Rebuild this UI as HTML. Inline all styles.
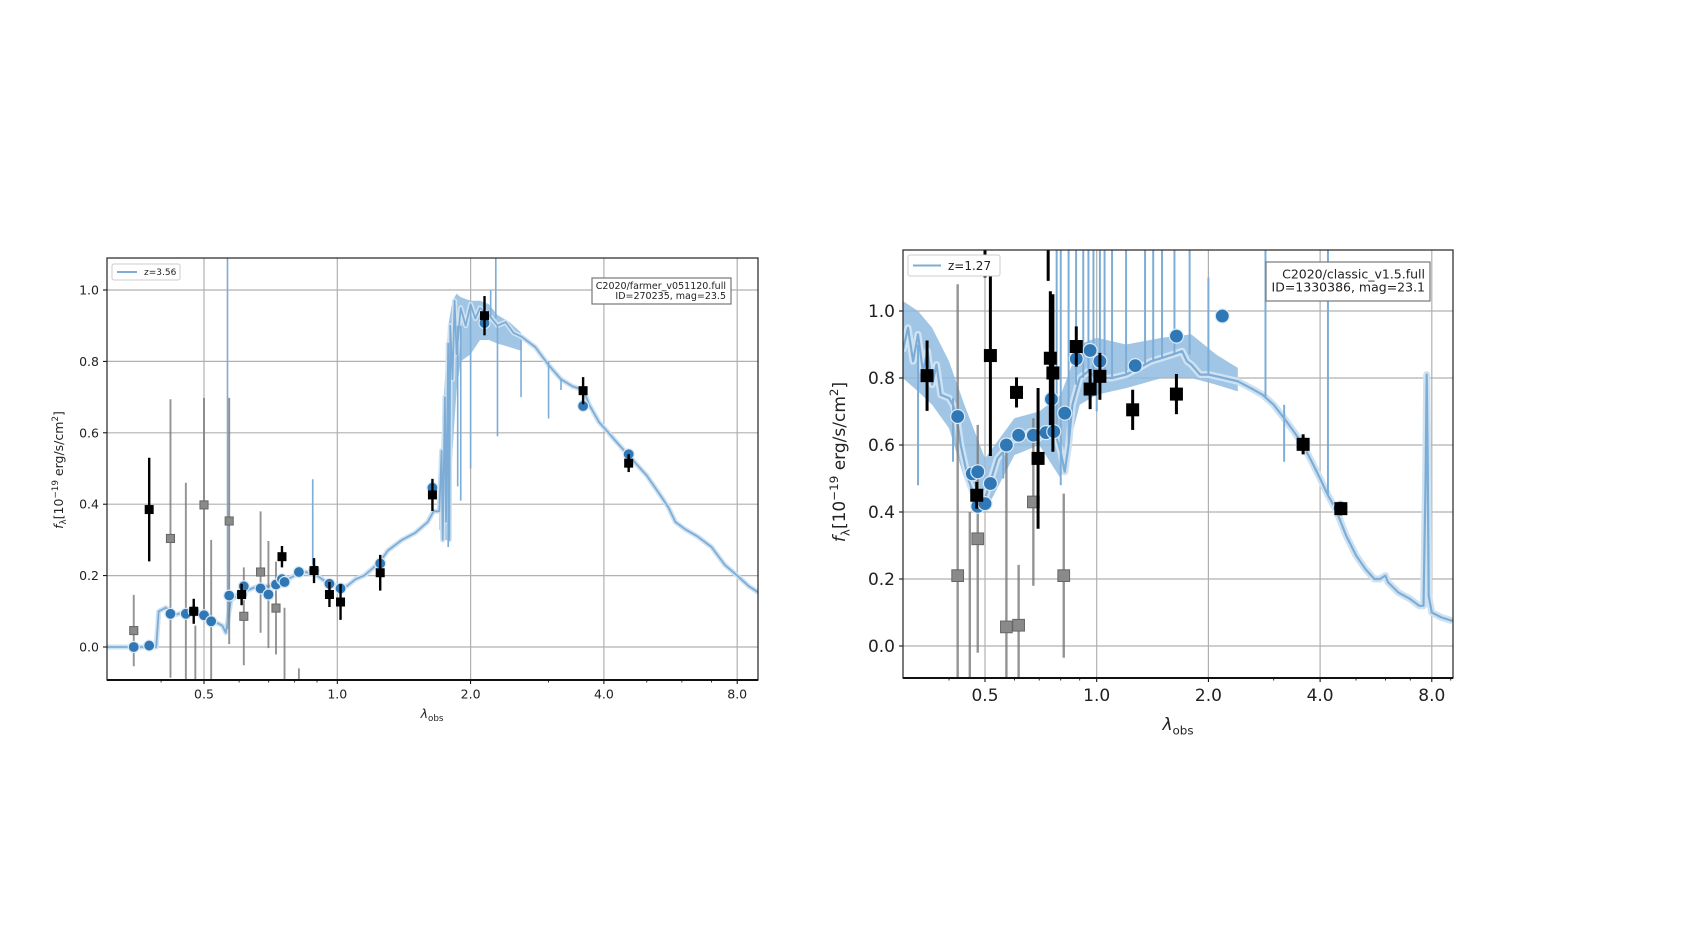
<!DOCTYPE html>
<html><head><meta charset="utf-8">
<style>
html,body{margin:0;padding:0;background:#fff;}
svg{display:block;font-family:"DejaVu Sans","Liberation Sans",sans-serif;}
</style></head>
<body>
<svg id="root" width="1687" height="949" viewBox="0 0 1687 949" xmlns="http://www.w3.org/2000/svg">
<defs>
<clipPath id="clipL"><rect x="107" y="258" width="651" height="422"/></clipPath>
<clipPath id="clipR"><rect x="903" y="250" width="550" height="428"/></clipPath>
</defs>
<g id="left"></g>
<g id="right"></g>
</svg>
<script>
// ---------- LEFT chart data ----------
const leftXTicks = [0.5, 1.0, 2.0, 4.0, 8.0];
const leftXTickLabels = ["0.5", "1.0", "2.0", "4.0", "8.0"];
const leftYTicks = [0.0, 0.2, 0.4, 0.6, 0.8, 1.0];
const leftYTickLabels = ["0.0", "0.2", "0.4", "0.6", "0.8", "1.0"];
const leftSpecLam = [0.30,0.39,0.395,0.41,0.43,0.46,0.5,0.53,0.55,0.56,0.575,0.6,0.63,0.66,0.7,0.75,0.8,0.85,0.9,0.95,1.0,1.05,1.1,1.15,1.2,1.25,1.3,1.4,1.5,1.6,1.65,1.7,1.72,1.73,1.75,1.76,1.78,1.79,1.8,1.82,1.84,1.86,1.9,1.95,2.0,2.05,2.1,2.2,2.3,2.4,2.5,2.6,2.8,3.0,3.2,3.4,3.6,3.7,3.9,4.1,4.3,4.6,5.0,5.4,5.6,5.8,6.1,6.5,7.0,7.5,8.0,8.5,9.0];
const leftSpecFlux = [0,0,0.1,0.11,0.09,0.1,0.09,0.07,0.06,0.04,0.13,0.15,0.16,0.17,0.17,0.18,0.2,0.21,0.2,0.18,0.17,0.17,0.19,0.2,0.22,0.24,0.27,0.3,0.32,0.35,0.38,0.38,0.55,0.3,0.7,0.35,0.85,0.3,0.9,0.75,0.97,0.82,0.95,0.9,0.96,0.92,0.95,0.93,0.9,0.91,0.88,0.87,0.84,0.79,0.75,0.73,0.72,0.68,0.63,0.6,0.57,0.53,0.48,0.42,0.39,0.35,0.33,0.31,0.28,0.23,0.2,0.17,0.15];
const leftNoiseLam = [1.7,1.74,1.78,1.82,1.86,1.9,2.0,2.1,2.2,2.3,2.45,2.6];
const leftNoiseHi = [0.45,0.7,0.9,0.97,0.99,0.98,0.97,0.97,0.96,0.93,0.91,0.88];
const leftNoiseLo = [0.33,0.3,0.3,0.55,0.72,0.8,0.82,0.86,0.86,0.85,0.84,0.83];
const leftLineLam = [0.565,0.88,2.22,2.28,1.78,1.87,1.9,2.0,2.3,2.6,3.0,3.2];
const leftLineTop = [1.2,0.47,1.0,1.2,0.8,0.9,0.9,0.95,0.9,0.86,0.8,0.75];
const leftLineBot = [0.05,0.2,0.92,0.92,0.28,0.45,0.41,0.5,0.59,0.7,0.64,0.72];
const leftModelLam = [0.347,0.376,0.42,0.455,0.474,0.5,0.519,0.57,0.608,0.615,0.671,0.699,0.727,0.75,0.76,0.819,0.886,0.96,1.017,1.25,1.64,2.15,3.59,4.55];
const leftModelFlux = [0,0.004,0.093,0.093,0.10,0.089,0.072,0.144,0.147,0.17,0.164,0.147,0.175,0.19,0.182,0.21,0.214,0.177,0.164,0.234,0.446,0.907,0.675,0.54];
const leftObsLam = [0.376,0.474,0.608,0.75,0.886,0.96,1.017,1.25,1.64,2.15,3.59,4.55];
const leftObsFlux = [0.385,0.10,0.147,0.253,0.214,0.147,0.126,0.208,0.426,0.928,0.718,0.515];
const leftObsErr = [0.145,0.035,0.03,0.03,0.035,0.035,0.05,0.05,0.045,0.055,0.038,0.025];
const leftLowLam = [0.347,0.42,0.455,0.5,0.519,0.478,0.57,0.615,0.671,0.699,0.727,0.76,0.819];
const leftLowFlux = [0.046,0.304,-0.15,0.398,-0.2,-0.2,0.353,0.086,0.21,0.147,0.109,-0.2,-0.3];
const leftLowErr = [0.1,0.39,0.61,0.3,0.5,0.26,0.345,0.137,0.17,0.15,0.13,0.31,0.24];

// ---------- RIGHT chart data ----------
const rightXTicks = [0.5, 1.0, 2.0, 4.0, 8.0];
const rightXTickLabels = ["0.5", "1.0", "2.0", "4.0", "8.0"];
const rightYTicks = [0.0, 0.2, 0.4, 0.6, 0.8, 1.0];
const rightYTickLabels = ["0.0", "0.2", "0.4", "0.6", "0.8", "1.0"];
const rightSpecLam = [0.30,0.31,0.32,0.33,0.34,0.35,0.36,0.37,0.38,0.4,0.41,0.42,0.43,0.44,0.45,0.46,0.48,0.5,0.52,0.54,0.56,0.58,0.62,0.66,0.7,0.74,0.78,0.8,0.82,0.84,0.86,0.9,0.95,1.0,1.1,1.2,1.3,1.4,1.5,1.6,1.7,1.75,1.8,1.9,2.0,2.2,2.4,2.6,2.8,3.0,3.2,3.4,3.6,3.8,4.0,4.2,4.4,4.7,5.0,5.3,5.6,5.8,6.0,6.1,6.5,7.0,7.4,7.6,7.7,7.75,7.8,7.85,8.0,8.5,9.1];
const rightSpecFlux = [0.88,0.95,0.85,0.93,0.82,0.88,0.78,0.84,0.75,0.74,0.72,0.68,0.6,0.55,0.5,0.47,0.43,0.44,0.5,0.56,0.58,0.61,0.62,0.64,0.62,0.65,0.62,0.58,0.52,0.6,0.72,0.8,0.82,0.8,0.8,0.81,0.83,0.85,0.86,0.87,0.88,0.85,0.84,0.81,0.81,0.8,0.79,0.77,0.75,0.72,0.68,0.64,0.6,0.55,0.5,0.45,0.41,0.33,0.27,0.23,0.2,0.2,0.21,0.19,0.16,0.14,0.12,0.12,0.5,0.81,0.55,0.15,0.1,0.085,0.075];
const rightNoiseLam = [0.3,0.33,0.36,0.4,0.44,0.5,0.6,0.7,0.8,0.9,1.0,1.2,1.5,1.8,2.1,2.4];
const rightNoiseHi = [1.03,1.0,0.95,0.85,0.72,0.56,0.68,0.7,0.75,0.9,0.92,0.9,0.92,0.93,0.87,0.83];
const rightNoiseLo = [0.8,0.76,0.72,0.65,0.5,0.4,0.57,0.6,0.5,0.72,0.75,0.77,0.8,0.8,0.78,0.76];
const rightLineLam = [0.78,0.8,0.84,0.88,0.92,0.95,0.98,1.02,1.05,1.1,1.2,1.35,1.42,1.5,1.62,1.78,2.0,2.85,4.2,0.33,0.41,0.56,0.8,1.0,3.2];
const rightLineTop = [1.2,1.2,1.2,1.2,1.2,1.2,1.2,1.2,1.2,1.2,1.2,1.2,1.2,1.2,1.2,1.2,1.1,1.2,1.2,0.9,0.74,0.6,0.62,0.8,0.72];
const rightLineBot = [0.62,0.58,0.6,0.78,0.8,0.82,0.8,0.8,0.8,0.8,0.81,0.84,0.85,0.86,0.87,0.87,0.81,0.74,0.45,0.48,0.55,0.5,0.48,0.7,0.55];
const rightModelLam = [0.422,0.462,0.478,0.478,0.5,0.517,0.571,0.616,0.675,0.73,0.766,0.755,0.82,0.881,0.96,1.02,1.27,1.64,2.18,3.6,4.53];
const rightModelFlux = [0.685,0.514,0.52,0.417,0.425,0.485,0.6,0.629,0.629,0.637,0.64,0.737,0.695,0.857,0.882,0.85,0.837,0.925,0.985,0.602,0.412];
const rightObsLam = [0.349,0.475,0.517,0.608,0.695,0.75,0.762,0.881,0.96,1.02,1.25,1.64,3.6,4.55,0.74,0.5];
const rightObsFlux = [0.807,0.45,0.867,0.757,0.56,0.859,0.815,0.894,0.767,0.805,0.705,0.752,0.602,0.41,1.3,1.35];
const rightObsErr = [0.105,0.04,0.3,0.045,0.21,0.2,0.235,0.06,0.06,0.07,0.06,0.06,0.03,0.02,0.21,0.25];
const rightLowLam = [0.422,0.478,0.455,0.571,0.616,0.675,0.815];
const rightLowFlux = [0.21,0.32,-0.3,0.057,0.062,0.43,0.21];
const rightLowErr = [0.87,0.34,0.7,0.55,0.18,0.25,0.245];

const NS = "http://www.w3.org/2000/svg";
function mk(parent, tag, attrs, text){
  const e = document.createElementNS(NS, tag);
  for (const k in attrs) e.setAttribute(k, attrs[k]);
  if (text !== undefined) e.textContent = text;
  parent.appendChild(e);
  return e;
}

function drawChart(g, cfg, d){
  const X = l => cfg.x05 + cfg.oct * Math.log2(l / 0.5);
  const Y = v => cfg.y0 - v * cfg.unit;
  const L = cfg.left, R = cfg.right, T = cfg.top, B = cfg.bottom;
  const bg = mk(g, 'rect', {x:L, y:T, width:R-L, height:B-T, fill:'#fff'});
  
  
  d.yTicks.forEach((v,i)=>{
    const ln = mk(g,'line',{x1:L,x2:R,y1:Y(v),y2:Y(v),stroke:'#b0b0b0','stroke-width':1.2});
    
    
    mk(g,'line',{x1:L-4,x2:L,y1:Y(v),y2:Y(v),stroke:'#000','stroke-width':1});
    const t = mk(g,'text',{x:L-8,y:Y(v)+cfg.fs*0.36,'text-anchor':'end','font-size':cfg.fs,fill:'#222'}, d.yTickLabels[i]);
    
    
  });
  d.xTicks.forEach((v,i)=>{
    const ln = mk(g,'line',{x1:X(v),x2:X(v),y1:T,y2:B,stroke:'#b0b0b0','stroke-width':1.2});
    
    
    mk(g,'line',{x1:X(v),x2:X(v),y1:B,y2:B+4,stroke:'#000','stroke-width':1});
    const t = mk(g,'text',{x:X(v),y:B+cfg.fs+6,'text-anchor':'middle','font-size':cfg.fs,fill:'#222'}, d.xTickLabels[i]);
    
    
  });
  [0.3,0.4,0.6,0.7,0.8,0.9,3,5,6,7,9].forEach(v=>{
    const xx = X(v); if (xx>L && xx<R) mk(g,'line',{x1:xx,x2:xx,y1:B,y2:B+2.5,stroke:'#000','stroke-width':0.8});
  });
  const cg = mk(g,'g',{'clip-path':'url(#'+cfg.clip+')'});
  // noisy spectrum region
  const np = d.noiseLam.map((l,i)=>X(l).toFixed(1)+','+Y(d.noiseHi[i]).toFixed(1))
    .concat(d.noiseLam.slice().reverse().map((l,j)=>{const i=d.noiseLam.length-1-j;return X(l).toFixed(1)+','+Y(d.noiseLo[i]).toFixed(1);})).join(' ');
  const nz = mk(cg,'polygon',{points:np,fill:'#8fbbe0',opacity:0.85});
  
  
  const pts = d.specLam.map((l,i)=>X(l).toFixed(1)+','+Y(d.specFlux[i]).toFixed(1)).join(' ');
  const band = mk(cg,'polyline',{points:pts,fill:'none',stroke:'#cfe2f2','stroke-width':cfg.band,'stroke-linejoin':'round'});
  
  
  const sp = mk(cg,'polyline',{points:pts,fill:'none',stroke:'#7dadd6','stroke-width':cfg.lw,'stroke-linejoin':'round'});
  
  
  d.lineLam.forEach((l,i)=>{
    const e = mk(cg,'line',{x1:X(l),x2:X(l),y1:Y(d.lineTop[i]),y2:Y(d.lineBot[i]),stroke:'#7dadd6','stroke-width':cfg.lw*0.9});
    
    
  });
  d.lowLam.forEach((l,i)=>{
    const x = X(l), v = d.lowFlux[i], e = d.lowErr[i];
    const eb = mk(cg,'line',{x1:x,x2:x,y1:Y(v+e),y2:Y(v-e),stroke:'#7a7a7a','stroke-width':cfg.ew*0.8,opacity:0.8});
    
    
    const s = cfg.sq*0.9;
    const r = mk(cg,'rect',{x:x-s/2,y:Y(v)-s/2,width:s,height:s,fill:'#8a8a8a',stroke:'#666','stroke-width':1});
    
    
  });
  d.modelLam.forEach((l,i)=>{
    const c = mk(cg,'circle',{cx:X(l),cy:Y(d.modelFlux[i]),r:cfg.cr,fill:'#2f78b5',stroke:'#dbe9f5','stroke-width':1.2});
    
    
  });
  d.obsLam.forEach((l,i)=>{
    const x = X(l), v = d.obsFlux[i], e = d.obsErr[i];
    const eb = mk(cg,'line',{x1:x,x2:x,y1:Y(v+e),y2:Y(v-e),stroke:'#000','stroke-width':cfg.ew});
    
    
    const s = cfg.sq;
    const r = mk(cg,'rect',{x:x-s/2,y:Y(v)-s/2,width:s,height:s,fill:'#000'});
    
    
  });
  const fr = mk(g,'rect',{x:L,y:T,width:R-L,height:B-T,fill:'none',stroke:'#222','stroke-width':1.2});
  
  
  mk(g,'line',{x1:L,x2:R,y1:B,y2:B,stroke:'#111','stroke-width':2});
  const lg = mk(g,'g',{});
  
  
  mk(lg,'rect',{x:cfg.leg[0],y:cfg.leg[1],width:cfg.leg[2],height:cfg.leg[3],fill:'#fff',stroke:'#ccc','stroke-width':1,rx:2});
  const ly = cfg.leg[1]+cfg.leg[3]/2;
  mk(lg,'line',{x1:cfg.leg[0]+5,x2:cfg.leg[0]+5+cfg.legLine,y1:ly,y2:ly,stroke:'#7dadd6','stroke-width':2});
  const lt = mk(lg,'text',{x:cfg.leg[0]+12+cfg.legLine,y:ly+cfg.legFs*0.36,'font-size':cfg.legFs,fill:'#222'}, cfg.legText);
  
  
  const ib = mk(g,'g',{});
  
  
  const b = cfg.info;
  mk(ib,'rect',{x:b[0],y:b[1],width:b[2],height:b[3],fill:'#fff',stroke:'#777','stroke-width':1.2});
  mk(ib,'text',{x:b[0]+b[2]-5,y:b[1]+b[3]*0.42,'text-anchor':'end','font-size':cfg.infoFs,fill:'#222'}, cfg.info1);
  mk(ib,'text',{x:b[0]+b[2]-5,y:b[1]+b[3]*0.42+cfg.infoFs*1.05,'text-anchor':'end','font-size':cfg.infoFs,fill:'#222'}, cfg.info2);
  const yl = mk(g,'text',{x:0,y:0,'font-size':cfg.labFs,fill:'#222','text-anchor':'middle',transform:'translate('+cfg.ylab[0]+','+cfg.ylab[1]+') rotate(-90)'});
  
  
  yl.innerHTML = '<tspan font-style="italic">f</tspan><tspan font-size="'+(cfg.labFs*0.7)+'" dy="'+(cfg.labFs*0.25)+'">λ</tspan><tspan dy="'+(-cfg.labFs*0.25)+'">[10</tspan><tspan font-size="'+(cfg.labFs*0.7)+'" dy="'+(-cfg.labFs*0.4)+'">−19</tspan><tspan dy="'+(cfg.labFs*0.4)+'"> erg/s/cm</tspan><tspan font-size="'+(cfg.labFs*0.7)+'" dy="'+(-cfg.labFs*0.4)+'">2</tspan><tspan dy="'+(cfg.labFs*0.4)+'">]</tspan>';
  const xl = mk(g,'text',{x:cfg.xlab[0],y:cfg.xlab[1],'font-size':cfg.labFs,fill:'#222','text-anchor':'middle'});
  
  
  xl.innerHTML = '<tspan font-style="italic">λ</tspan><tspan font-size="'+(cfg.labFs*0.7)+'" dy="'+(cfg.labFs*0.25)+'">obs</tspan>';
}

drawChart(document.getElementById('left'), {
  x05:204, oct:133.3, y0:647, unit:357, left:107, right:758, top:258, bottom:680, clip:'clipL',
  fs:12.5, lw:1.8, band:5, ew:2.4, sq:9, cr:5.5,
  leg:[112,264,68,16], legLine:20, legFs:9, legText:'z=3.56',
  info:[592,278,139,26], infoFs:9.5, info1:'C2020/farmer_v051120.full', info2:'ID=270235, mag=23.5',
  labFs:12.5, ylab:[63,470], xlab:[432,718]
},{xTicks:leftXTicks,xTickLabels:leftXTickLabels,yTicks:leftYTicks,yTickLabels:leftYTickLabels,
 specLam:leftSpecLam,specFlux:leftSpecFlux,noiseLam:leftNoiseLam,noiseHi:leftNoiseHi,noiseLo:leftNoiseLo,
 lineLam:leftLineLam,lineTop:leftLineTop,lineBot:leftLineBot,
 modelLam:leftModelLam,modelFlux:leftModelFlux,obsLam:leftObsLam,obsFlux:leftObsFlux,obsErr:leftObsErr,
 lowLam:leftLowLam,lowFlux:leftLowFlux,lowErr:leftLowErr});

drawChart(document.getElementById('right'), {
  x05:985, oct:111.7, y0:646, unit:335, left:903, right:1453, top:250, bottom:678, clip:'clipR',
  fs:17, lw:2.2, band:7, ew:3, sq:13, cr:7,
  leg:[908,255,92,21], legLine:28, legFs:12, legText:'z=1.27',
  info:[1266,262,164,39], infoFs:12.5, info1:'C2020/classic_v1.5.full', info2:'ID=1330386, mag=23.1',
  labFs:17, ylab:[845,462], xlab:[1178,730]
},{xTicks:rightXTicks,xTickLabels:rightXTickLabels,yTicks:rightYTicks,yTickLabels:rightYTickLabels,
 specLam:rightSpecLam,specFlux:rightSpecFlux,noiseLam:rightNoiseLam,noiseHi:rightNoiseHi,noiseLo:rightNoiseLo,
 lineLam:rightLineLam,lineTop:rightLineTop,lineBot:rightLineBot,
 modelLam:rightModelLam,modelFlux:rightModelFlux,obsLam:rightObsLam,obsFlux:rightObsFlux,obsErr:rightObsErr,
 lowLam:rightLowLam,lowFlux:rightLowFlux,lowErr:rightLowErr});
</script>
</body></html>
